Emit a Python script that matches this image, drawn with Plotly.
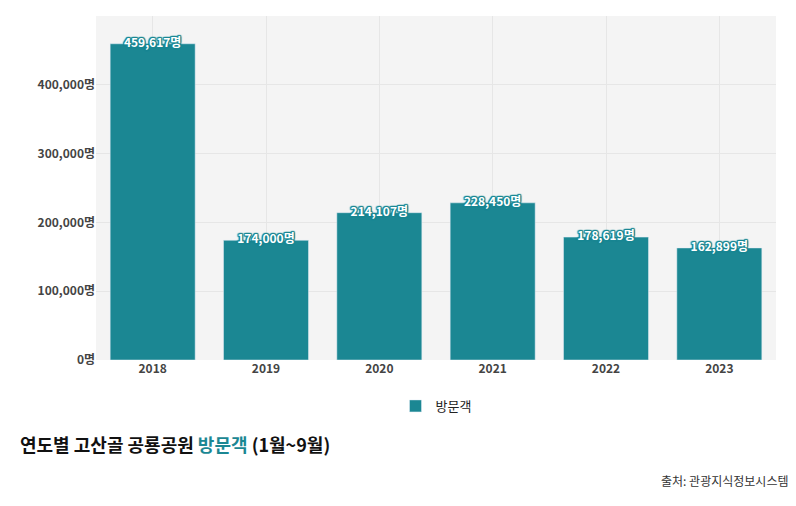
import plotly.graph_objects as go

years = ['2018', '2019', '2020', '2021', '2022', '2023']
visitors = [459617, 174000, 214107, 228450, 178619, 162899]
tick_vals = [0, 100000, 200000, 300000, 400000, 500000]

teal = '#1b8793'
font = 'Noto Sans CJK KR'
outline = ', '.join(f'{dx}px {dy}px 1px {teal}' for dx in (-1, 0, 1) for dy in (-1, 0, 1))

fig = go.Figure()
fig.add_trace(go.Bar(x=years, y=visitors, name='방문객', marker_color=teal,
                     hoverinfo='skip'))
fig.add_trace(go.Scatter(
    x=years, y=visitors, mode='text', showlegend=False, cliponaxis=False,
    text=[f'{v:,}명' for v in visitors],
    textfont=dict(family=font, size=12, color='white', weight='bold', shadow=outline),
))

fig.update_layout(
    width=796, height=506,
    margin=dict(l=88, r=28, t=8, b=154, autoexpand=False),
    plot_bgcolor='#f4f4f4', paper_bgcolor='white',
    font=dict(family=font, color='#333'),
    bargap=0.25,
    legend=dict(orientation='h', x=0.5, xanchor='center', y=-0.09, yanchor='top',
                font=dict(size=13, color='#222'), itemwidth=30),
    annotations=[
        dict(text='연도별 고산골 공룡공원 <span style="color:#1b8793">방문객</span> (1월~9월)',
             xref='paper', yref='paper', x=-0.115, y=-0.2, xanchor='left', yanchor='top',
             showarrow=False, font=dict(size=18, color='#111', weight='bold')),
        dict(text='출처: 관광지식정보시스템', xref='paper', yref='paper', x=1.02, y=-0.32,
             xanchor='right', yanchor='top', showarrow=False, font=dict(size=12, color='#333')),
    ],
)
fig.update_xaxes(showgrid=True, gridcolor='#e6e6e6', tickfont=dict(size=12, color='#444', weight='bold'),
                 ticks='', showline=False)
fig.update_yaxes(range=[0, 500000], tickvals=tick_vals, ticktext=[f'{v:,}명' for v in tick_vals],
                 gridcolor='#e6e6e6', zeroline=False,
                 tickfont=dict(size=12, color='#444', weight='bold'))

fig.write_html('out.html')
